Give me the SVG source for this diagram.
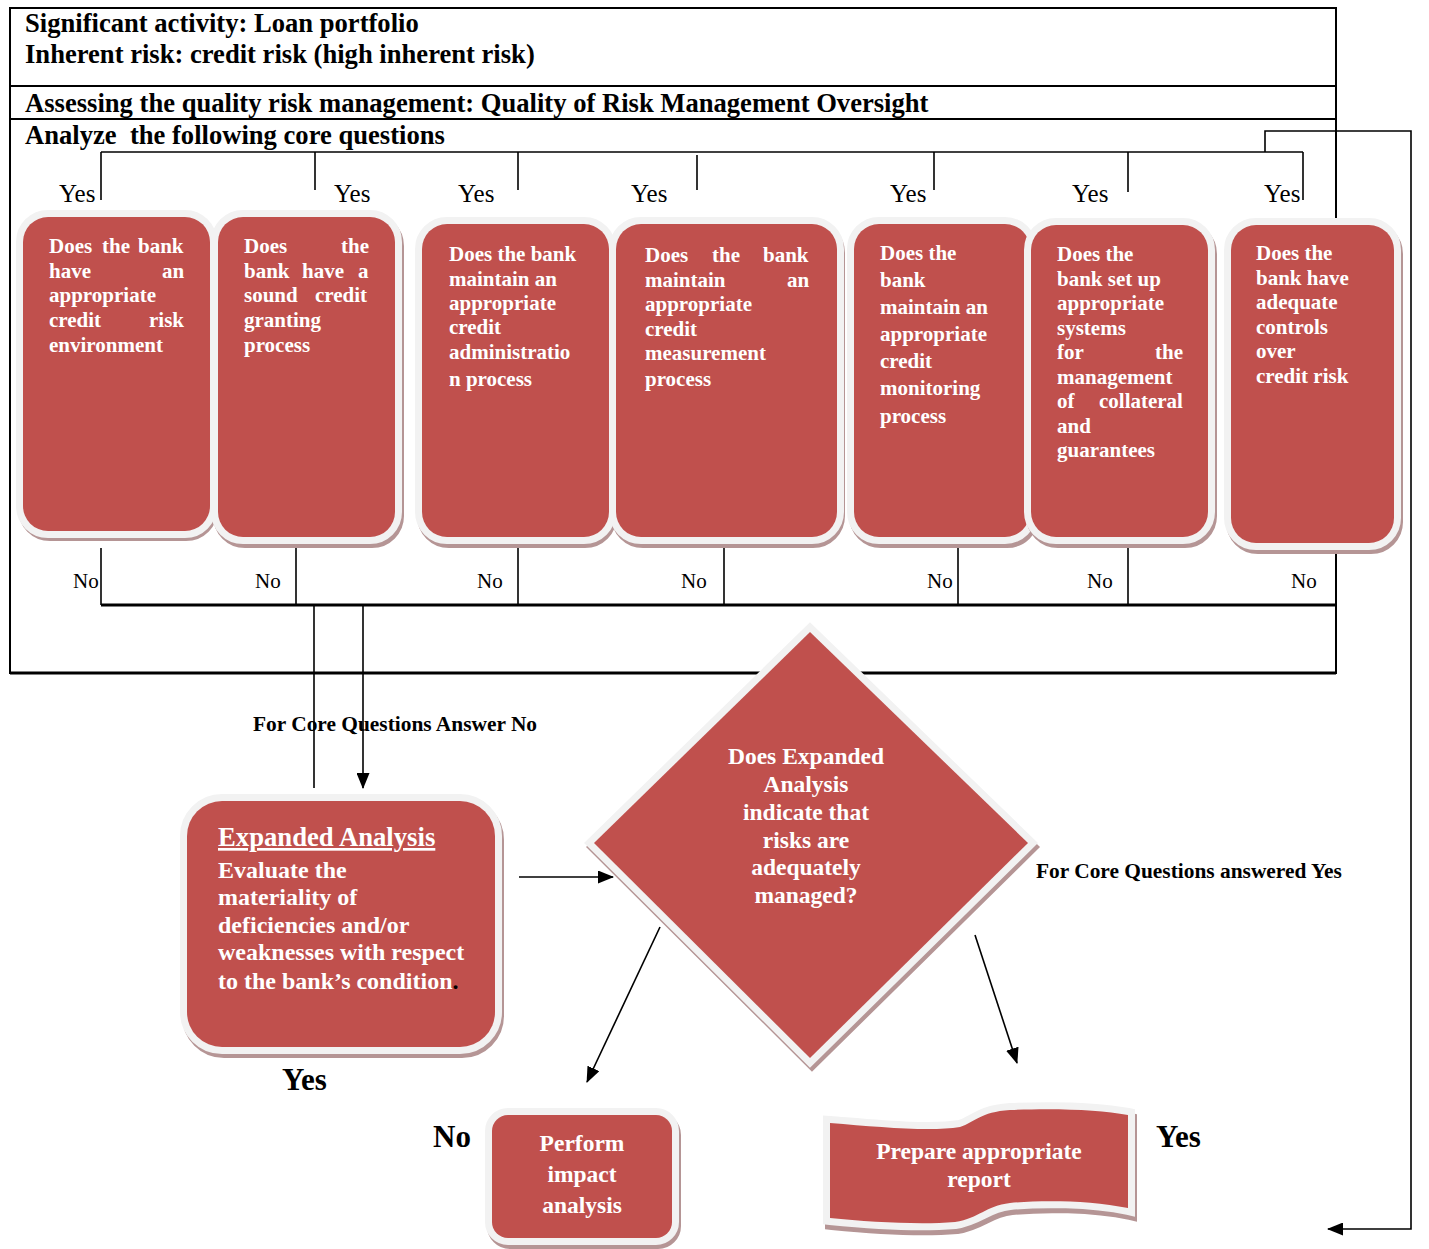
<svg xmlns="http://www.w3.org/2000/svg" width="1429" height="1249" viewBox="0 0 1429 1249">
<defs>
<marker id="ah" markerWidth="16" markerHeight="13" refX="15" refY="6.5" orient="auto" markerUnits="userSpaceOnUse">
<path d="M0,0 L16,6.5 L0,13 Z" fill="#000"/>
</marker>
<style>
.frame{fill:none;stroke:#000;stroke-width:2}
.ln{fill:none;stroke:#000;stroke-width:1.6}
.bus{fill:none;stroke:#000;stroke-width:3}
.hd{font-family:"Liberation Serif","Times New Roman",serif;font-weight:bold;font-size:26.6px;fill:#000}
.yes{font-family:"Liberation Serif","Times New Roman",serif;font-size:25px;fill:#000}
.no{font-family:"Liberation Serif","Times New Roman",serif;font-size:21px;fill:#000}
.lbl{font-family:"Liberation Serif","Times New Roman",serif;font-weight:bold;font-size:21.4px;fill:#000}
.big{font-family:"Liberation Serif","Times New Roman",serif;font-weight:bold;font-size:31px;fill:#000}
.qt{font-family:"Liberation Serif","Times New Roman",serif;font-weight:bold;font-size:21px;fill:#fff}
.dt{font-family:"Liberation Serif","Times New Roman",serif;font-weight:bold;font-size:23.5px;fill:#fff;text-anchor:middle}
.et{font-family:"Liberation Serif","Times New Roman",serif;font-weight:bold;font-size:24px;fill:#fff}
.ttl{font-family:"Liberation Serif","Times New Roman",serif;font-weight:bold;font-size:26.7px;fill:#fff;text-decoration:underline}
.red{fill:#C0504D}
.rim{fill:#C0504D;stroke:#F2F2F2;stroke-width:14;stroke-linejoin:miter}
.shd{fill:#B59595;stroke:#B59595;stroke-width:14}
</style>
</defs>
<rect width="1429" height="1249" fill="#fff"/>

<g id="frame">
<rect class="frame" x="10" y="8" width="1326" height="665"/>
<line class="frame" x1="10" y1="86" x2="1336" y2="86"/>
<line class="frame" x1="10" y1="119" x2="1336" y2="119"/>
<line x1="10" y1="673" x2="1336" y2="673" stroke="#000" stroke-width="3"/>
<text class="hd" x="25" y="32">Significant activity: Loan portfolio</text>
<text class="hd" x="25" y="63">Inherent risk: credit risk (high inherent risk)</text>
<text class="hd" x="25" y="112">Assessing the quality risk management: Quality of Risk Management Oversight</text>
<text class="hd" x="25" y="144" xml:space="preserve">Analyze  the following core questions</text>
</g>

<g id="connectors">
<line class="ln" x1="101" y1="152" x2="1303" y2="152"/>
<line class="ln" x1="101" y1="152" x2="101" y2="200"/>
<line class="ln" x1="315" y1="152" x2="315" y2="190"/>
<line class="ln" x1="518" y1="152" x2="518" y2="190"/>
<line class="ln" x1="697" y1="155" x2="697" y2="190"/>
<line class="ln" x1="934" y1="152" x2="934" y2="190"/>
<line class="ln" x1="1128" y1="152" x2="1128" y2="192"/>
<line class="ln" x1="1303" y1="152" x2="1303" y2="200"/>
<path class="ln" d="M1265,152 V131 H1411 V1229 H1328" marker-end="url(#ah)"/>
<line class="ln" x1="101" y1="548" x2="101" y2="605"/>
<line class="ln" x1="296" y1="548" x2="296" y2="605"/>
<line class="ln" x1="518" y1="548" x2="518" y2="605"/>
<line class="ln" x1="724" y1="548" x2="724" y2="605"/>
<line class="ln" x1="958" y1="548" x2="958" y2="605"/>
<line class="ln" x1="1128" y1="548" x2="1128" y2="605"/>
<line class="ln" x1="1336" y1="555" x2="1336" y2="605"/>
<line class="bus" x1="101" y1="605" x2="1336" y2="605"/>
<line class="ln" x1="314" y1="605" x2="314" y2="788"/>
<line class="ln" x1="363" y1="605" x2="363" y2="788" marker-end="url(#ah)"/>
<line class="ln" x1="519" y1="877" x2="613" y2="877" stroke-width="2" marker-end="url(#ah)"/>
<line class="ln" x1="660" y1="927" x2="587" y2="1082" stroke-width="2" marker-end="url(#ah)"/>
<line class="ln" x1="975" y1="935" x2="1017" y2="1063" stroke-width="2" marker-end="url(#ah)"/>
</g>

<g id="labels">
<text class="yes" x="59" y="202">Yes</text>
<text class="yes" x="334" y="202">Yes</text>
<text class="yes" x="458" y="202">Yes</text>
<text class="yes" x="631" y="202">Yes</text>
<text class="yes" x="890" y="202">Yes</text>
<text class="yes" x="1072" y="202">Yes</text>
<text class="yes" x="1264" y="202">Yes</text>
<text class="no" x="73" y="588">No</text>
<text class="no" x="255" y="588">No</text>
<text class="no" x="477" y="588">No</text>
<text class="no" x="681" y="588">No</text>
<text class="no" x="927" y="588">No</text>
<text class="no" x="1087" y="588">No</text>
<text class="no" x="1291" y="588">No</text>
<text class="lbl" x="253" y="731">For Core Questions Answer No</text>
<text class="lbl" x="1036" y="878">For Core Questions answered Yes</text>
<text class="big" x="282" y="1090">Yes</text>
<text class="big" x="433" y="1147">No</text>
<text class="big" x="1156" y="1147">Yes</text>
</g>

<g id="q1">
<rect class="shd" x="25" y="221" width="186" height="313" rx="25"/>
<rect class="rim" x="23" y="217" width="187" height="314" rx="25"/>
<rect class="red" x="23" y="217" width="187" height="314" rx="25"/>
<text class="qt" y="253"><tspan x="49">Does</tspan><tspan x="102">the</tspan><tspan x="138">bank</tspan></text>
<text class="qt" y="278"><tspan x="49">have</tspan><tspan x="162">an</tspan></text>
<text class="qt" x="49" y="302">appropriate</text>
<text class="qt" y="327"><tspan x="49">credit</tspan><tspan x="149">risk</tspan></text>
<text class="qt" x="49" y="352">environment</text>
</g>

<g id="q2">
<rect class="shd" x="220" y="221" width="177" height="320" rx="25"/>
<rect class="rim" x="218" y="217" width="177" height="320" rx="25"/>
<rect class="red" x="218" y="217" width="177" height="320" rx="25"/>
<text class="qt" y="253"><tspan x="244">Does</tspan><tspan x="341">the</tspan></text>
<text class="qt" y="278"><tspan x="244">bank</tspan><tspan x="302">have</tspan><tspan x="358">a</tspan></text>
<text class="qt" y="302"><tspan x="244">sound</tspan><tspan x="315">credit</tspan></text>
<text class="qt" x="244" y="327">granting</text>
<text class="qt" x="244" y="352">process</text>
</g>

<g id="q3">
<rect class="shd" x="424" y="228" width="186" height="313" rx="25"/>
<rect class="rim" x="422" y="224" width="187" height="313" rx="25"/>
<rect class="red" x="422" y="224" width="187" height="313" rx="25"/>
<text class="qt" x="449" y="261">Does the bank</text>
<text class="qt" x="449" y="286">maintain an</text>
<text class="qt" x="449" y="310">appropriate</text>
<text class="qt" x="449" y="334">credit</text>
<text class="qt" x="449" y="359">administratio</text>
<text class="qt" x="449" y="386">n process</text>
</g>

<g id="q4">
<rect class="shd" x="618" y="228" width="220" height="313" rx="25"/>
<rect class="rim" x="616" y="224" width="221" height="313" rx="25"/>
<rect class="red" x="616" y="224" width="221" height="313" rx="25"/>
<text class="qt" y="262"><tspan x="645">Does</tspan><tspan x="712">the</tspan><tspan x="763">bank</tspan></text>
<text class="qt" y="287"><tspan x="645">maintain</tspan><tspan x="787">an</tspan></text>
<text class="qt" x="645" y="311">appropriate</text>
<text class="qt" x="645" y="336">credit</text>
<text class="qt" x="645" y="360">measurement</text>
<text class="qt" x="645" y="386">process</text>
</g>

<g id="q5">
<rect class="shd" x="856" y="228" width="176" height="313" rx="25"/>
<rect class="rim" x="854" y="224" width="176" height="313" rx="25"/>
<rect class="red" x="854" y="224" width="176" height="313" rx="25"/>
<text class="qt" x="880" y="260">Does the</text>
<text class="qt" x="880" y="287">bank</text>
<text class="qt" x="880" y="314">maintain an</text>
<text class="qt" x="880" y="341">appropriate</text>
<text class="qt" x="880" y="368">credit</text>
<text class="qt" x="880" y="395">monitoring</text>
<text class="qt" x="880" y="423">process</text>
</g>

<g id="q6">
<rect class="shd" x="1033" y="229" width="177" height="312" rx="25"/>
<rect class="rim" x="1031" y="225" width="177" height="312" rx="25"/>
<rect class="red" x="1031" y="225" width="177" height="312" rx="25"/>
<text class="qt" x="1057" y="261">Does the</text>
<text class="qt" x="1057" y="286">bank set up</text>
<text class="qt" x="1057" y="310">appropriate</text>
<text class="qt" x="1057" y="335">systems</text>
<text class="qt" y="359"><tspan x="1057">for</tspan><tspan x="1155">the</tspan></text>
<text class="qt" x="1057" y="384">management</text>
<text class="qt" y="408"><tspan x="1057">of</tspan><tspan x="1099">collateral</tspan></text>
<text class="qt" x="1057" y="433">and</text>
<text class="qt" x="1057" y="457">guarantees</text>
</g>

<g id="q7">
<rect class="shd" x="1233" y="229" width="163" height="318" rx="25"/>
<rect class="rim" x="1231" y="225" width="163" height="318" rx="25"/>
<rect class="red" x="1231" y="225" width="163" height="318" rx="25"/>
<text class="qt" x="1256" y="260">Does the</text>
<text class="qt" x="1256" y="285">bank have</text>
<text class="qt" x="1256" y="309">adequate</text>
<text class="qt" x="1256" y="334">controls</text>
<text class="qt" x="1256" y="358">over</text>
<text class="qt" x="1256" y="383">credit risk</text>
</g>

<g id="expanded">
<rect class="shd" x="189" y="805" width="308" height="246" rx="35"/>
<rect class="rim" x="187" y="801" width="308" height="246" rx="35"/>
<rect class="red" x="187" y="801" width="308" height="246" rx="35"/>
<text class="ttl" x="218" y="846">Expanded Analysis</text>
<text class="et" x="218" y="878">Evaluate the</text>
<text class="et" x="218" y="905">materiality of</text>
<text class="et" x="218" y="933">deficiencies and/or</text>
<text class="et" x="218" y="960">weaknesses with respect</text>
<text class="et" x="218" y="989">to the bank’s condition<tspan fill="#000">.</tspan></text>
</g>

<g id="decision">
<polygon class="shd" points="812,636 1030,847 812,1062 596,847"/>
<polygon class="rim" points="810,632 1028,843 810,1058 594,843"/>
<polygon class="red" points="810,632 1028,843 810,1058 594,843"/>
<text class="dt" x="806" y="764">Does Expanded</text>
<text class="dt" x="806" y="792">Analysis</text>
<text class="dt" x="806" y="820">indicate that</text>
<text class="dt" x="806" y="848">risks are</text>
<text class="dt" x="806" y="875">adequately</text>
<text class="dt" x="806" y="903">managed?</text>
</g>

<g id="impact">
<rect class="shd" x="494" y="1119" width="180" height="123" rx="16"/>
<rect class="rim" x="492" y="1115" width="180" height="123" rx="16"/>
<rect class="red" x="492" y="1115" width="180" height="123" rx="16"/>
<text class="dt" x="582" y="1151">Perform</text>
<text class="dt" x="582" y="1182">impact</text>
<text class="dt" x="582" y="1213">analysis</text>
</g>

<g id="report">
<path class="shd" transform="translate(2,5)" d="M830,1123 C880,1127 930,1132 960,1127 C975,1122 980,1112 1010,1110 C1060,1108 1100,1110 1128,1115 L1128,1208 C1090,1200 1040,1200 1010,1203 C985,1206 980,1218 955,1222 C920,1225 870,1222 830,1218 Z"/>
<path class="rim" d="M830,1123 C880,1127 930,1132 960,1127 C975,1122 980,1112 1010,1110 C1060,1108 1100,1110 1128,1115 L1128,1208 C1090,1200 1040,1200 1010,1203 C985,1206 980,1218 955,1222 C920,1225 870,1222 830,1218 Z"/>
<path class="red" d="M830,1123 C880,1127 930,1132 960,1127 C975,1122 980,1112 1010,1110 C1060,1108 1100,1110 1128,1115 L1128,1208 C1090,1200 1040,1200 1010,1203 C985,1206 980,1218 955,1222 C920,1225 870,1222 830,1218 Z"/>
<text class="dt" x="979" y="1159">Prepare appropriate</text>
<text class="dt" x="979" y="1187">report</text>
</g>
</svg>
